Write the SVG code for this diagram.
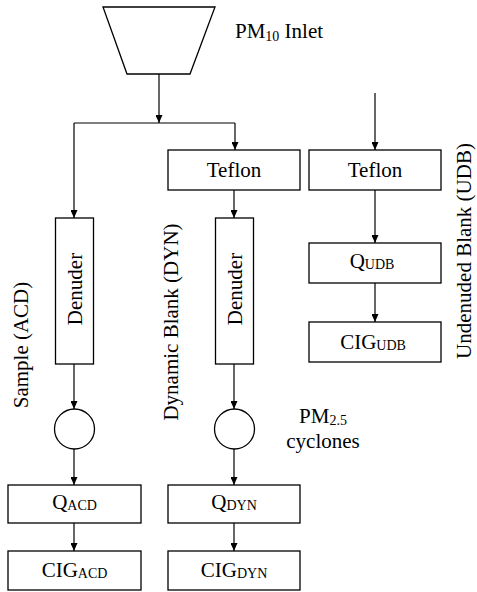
<svg xmlns="http://www.w3.org/2000/svg" width="477" height="592" viewBox="0 0 477 592">
<style>
.box{fill:#fff;stroke:#000;stroke-width:1.3}
.lbl{font-family:"Liberation Serif","Times New Roman",serif;font-size:21px;fill:#000}
.c{text-anchor:middle}
.sub{font-size:14px}
.ln{fill:none;stroke:#000;stroke-width:1.2}
</style>
<defs>
<marker id="ah" markerUnits="userSpaceOnUse" markerWidth="8" markerHeight="7" refX="8" refY="3.5" orient="auto">
<path d="M0,0 L8,3.5 L0,7 z" fill="#000"/>
</marker>
</defs>
<rect width="477" height="592" fill="#fff"/>

<g id="connectors">
<path class="ln" d="M159,74 V123" marker-end="url(#ah)"/>
<path class="ln" d="M74,123 H235"/>
<path class="ln" d="M74,123 V218" marker-end="url(#ah)"/>
<path class="ln" d="M235,123 V150" marker-end="url(#ah)"/>
<path class="ln" d="M234,190 V218" marker-end="url(#ah)"/>
<path class="ln" d="M375,93 V150" marker-end="url(#ah)"/>
<path class="ln" d="M375,190 V243" marker-end="url(#ah)"/>
<path class="ln" d="M375,283 V322" marker-end="url(#ah)"/>
<path class="ln" d="M74,364 V409" marker-end="url(#ah)"/>
<path class="ln" d="M234,364 V409" marker-end="url(#ah)"/>
<path class="ln" d="M74,449 V485" marker-end="url(#ah)"/>
<path class="ln" d="M234,449 V485" marker-end="url(#ah)"/>
<path class="ln" d="M74,523 V551" marker-end="url(#ah)"/>
<path class="ln" d="M234,523 V551" marker-end="url(#ah)"/>
</g>

<g id="inlet">
<polygon class="box" points="103,7 215,7 190,74 127,74"/>
<text class="lbl" x="235" y="38">PM<tspan class="sub" dy="3">10</tspan><tspan dy="-3"> Inlet</tspan></text>
</g>

<g id="teflon-dyn">
<rect class="box" x="168" y="150" width="132" height="40"/>
<text class="lbl c" x="234" y="177">Teflon</text>
</g>
<g id="teflon-udb">
<rect class="box" x="309" y="150" width="132" height="40"/>
<text class="lbl c" x="375" y="177">Teflon</text>
</g>

<g id="denuder-acd">
<rect class="box" x="55.5" y="218" width="38" height="146"/>
<text class="lbl c" transform="translate(82,289) rotate(-90)">Denuder</text>
</g>
<g id="denuder-dyn">
<rect class="box" x="215.5" y="218" width="38" height="146"/>
<text class="lbl c" transform="translate(242,289) rotate(-90)">Denuder</text>
</g>

<g id="q-udb">
<rect class="box" x="309" y="243" width="132" height="40"/>
<text class="lbl c" x="372" y="268">Q<tspan class="sub" dy="1">UDB</tspan></text>
</g>
<g id="cig-udb">
<rect class="box" x="309" y="322" width="132" height="40"/>
<text class="lbl c" x="373" y="349">CIG<tspan class="sub" dy="1">UDB</tspan></text>
</g>

<g id="cyclone-acd">
<circle class="box" cx="74.5" cy="429" r="20"/>
</g>
<g id="cyclone-dyn">
<circle class="box" cx="234.5" cy="429" r="20"/>
</g>
<g id="cyclone-label">
<text class="lbl c" x="323" y="423">PM<tspan class="sub" dy="2">2.5</tspan></text>
<text class="lbl c" x="323" y="448">cyclones</text>
</g>

<g id="q-acd">
<rect class="box" x="8" y="485" width="133" height="38"/>
<text class="lbl c" x="74.5" y="509">Q<tspan class="sub" dy="1">ACD</tspan></text>
</g>
<g id="q-dyn">
<rect class="box" x="168" y="485" width="132" height="38"/>
<text class="lbl c" x="234" y="509">Q<tspan class="sub" dy="1">DYN</tspan></text>
</g>
<g id="cig-acd">
<rect class="box" x="8" y="551" width="133" height="39"/>
<text class="lbl c" x="74.5" y="577">CIG<tspan class="sub" dy="1">ACD</tspan></text>
</g>
<g id="cig-dyn">
<rect class="box" x="168" y="551" width="132" height="39"/>
<text class="lbl c" x="234" y="577">CIG<tspan class="sub" dy="1">DYN</tspan></text>
</g>

<g id="labels">
<text class="lbl c" transform="translate(28,345) rotate(-90)">Sample (ACD)</text>
<text class="lbl c" transform="translate(178,322) rotate(-90)">Dynamic Blank (DYN)</text>
<text class="lbl c" transform="translate(471,251) rotate(-90)">Undenuded Blank (UDB)</text>
</g>
</svg>
